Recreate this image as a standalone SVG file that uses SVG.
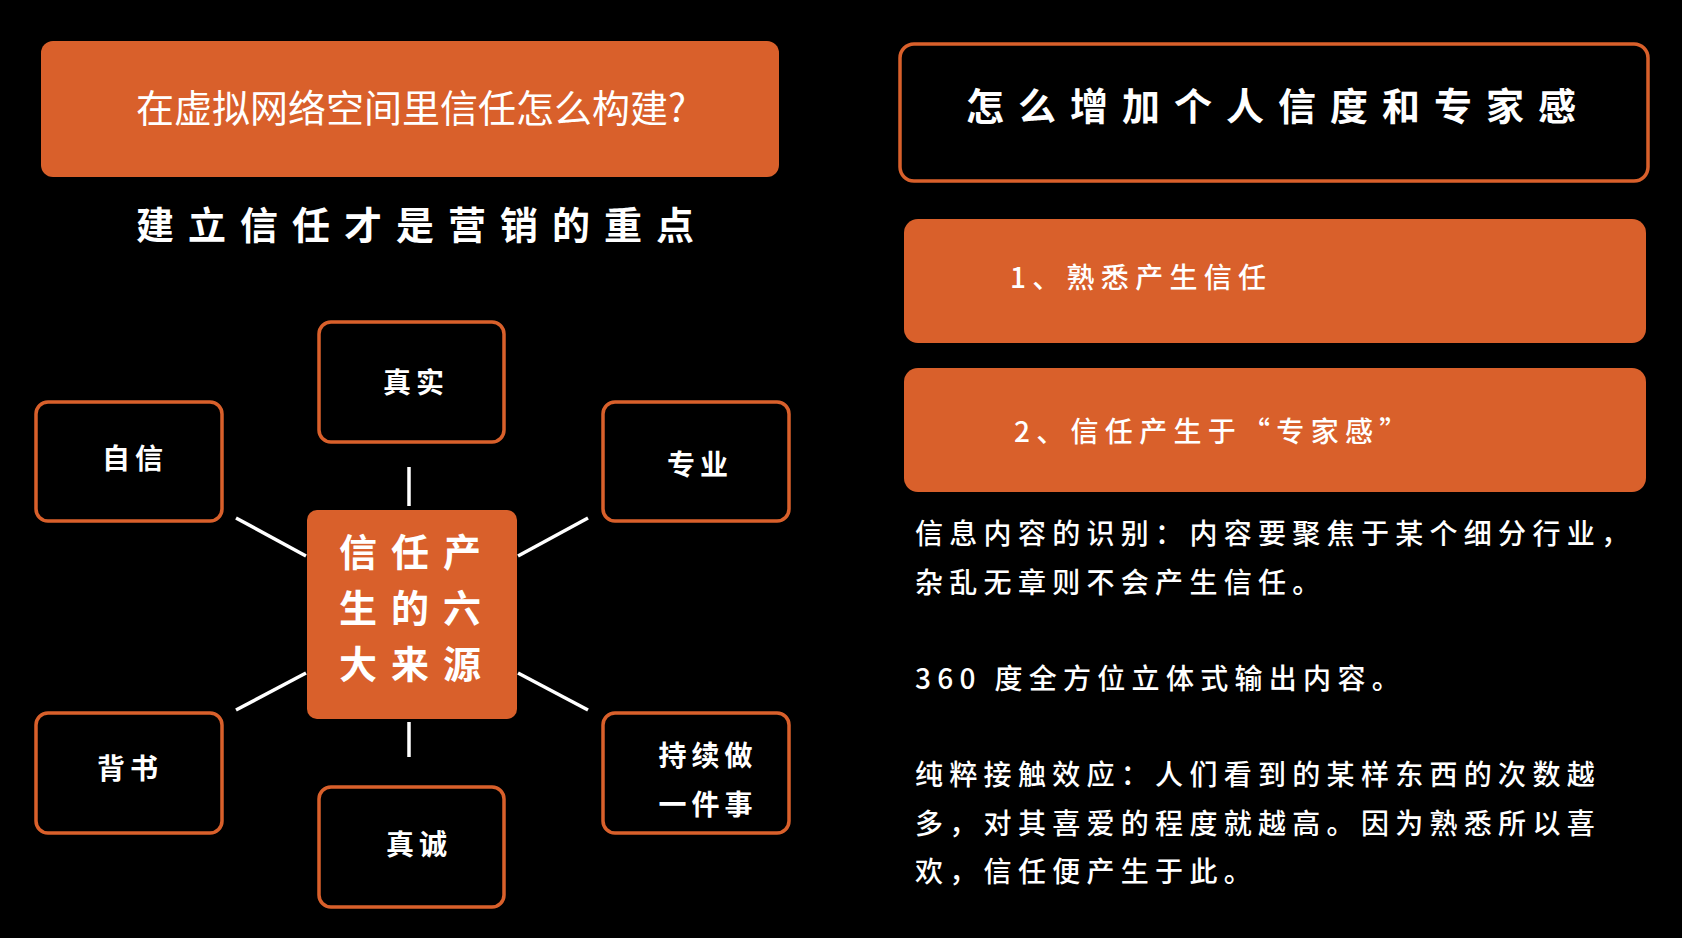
<svg xmlns="http://www.w3.org/2000/svg" width="1682" height="938" viewBox="0 0 1682 938">
<style>
text{font-family:"Noto Sans CJK SC","Liberation Sans",sans-serif;fill:#fff}
.box{fill:#000;stroke:#D9602B;stroke-width:3.5}
.fill{fill:#D9602B}
.lbl{font-size:28px;font-weight:bold;letter-spacing:5px;text-anchor:middle}
.big{font-size:38px;font-weight:bold;letter-spacing:14px;text-anchor:middle}
.para{font-size:28px;font-weight:500;letter-spacing:6.3px}
.conn line{stroke:#fff;stroke-width:3.5}
</style>
<rect width="1682" height="938" fill="#000"/>
<g id="title"><rect class="fill" x="41" y="41" width="738" height="136" rx="12"/>
<text x="411" y="122" font-size="38" text-anchor="middle">在虚拟网络空间里信任怎么构建?</text></g>
<text id="subtitle" class="big" x="422" y="239">建立信任才是营销的重点</text>
<g class="conn">
<line x1="409" y1="467" x2="409" y2="506"/>
<line x1="409" y1="722" x2="409" y2="757"/>
<line x1="236" y1="518" x2="306" y2="556"/>
<line x1="518" y1="556" x2="588" y2="518"/>
<line x1="236" y1="710" x2="306" y2="673"/>
<line x1="518" y1="673" x2="588" y2="710"/>
</g>
<g id="center"><rect class="fill" x="307" y="510" width="210" height="209" rx="10"/>
<text class="big" x="417" y="566">信任产</text>
<text class="big" x="417" y="622">生的六</text>
<text class="big" x="417" y="678">大来源</text></g>
<g id="n1"><rect class="box" x="319" y="322" width="185" height="120" rx="12"/><text class="lbl" x="416" y="393">真实</text></g>
<g id="n2"><rect class="box" x="36" y="402" width="186" height="119" rx="12"/><text class="lbl" x="135" y="469">自信</text></g>
<g id="n3"><rect class="box" x="603" y="402" width="186" height="119" rx="12"/><text class="lbl" x="700" y="475">专业</text></g>
<g id="n4"><rect class="box" x="36" y="713" width="186" height="120" rx="12"/><text class="lbl" x="130" y="779">背书</text></g>
<g id="n5"><rect class="box" x="603" y="713" width="186" height="120" rx="12"/><text class="lbl" x="708" y="766">持续做</text><text class="lbl" x="708" y="815">一件事</text></g>
<g id="n6"><rect class="box" x="319" y="787" width="185" height="120" rx="12"/><text class="lbl" x="419" y="855">真诚</text></g>
<g id="header"><rect class="box" x="900" y="44" width="748" height="137" rx="14"/>
<text class="big" x="1278" y="120">怎么增加个人信度和专家感</text></g>
<g id="b1"><rect class="fill" x="904" y="219" width="742" height="124" rx="14"/>
<text class="para" x="1010" y="288">1、熟悉产生信任</text></g>
<g id="b2"><rect class="fill" x="904" y="368" width="742" height="124" rx="14"/>
<text class="para" x="1014" y="442">2、信任产生于“专家感”</text></g>
<g id="body">
<text class="para" x="915" y="544">信息内容的识别：内容要聚焦于某个细分行业，</text>
<text class="para" x="915" y="593">杂乱无章则不会产生信任。</text>
<text class="para" x="915" y="689">360 度全方位立体式输出内容。</text>
<text class="para" x="915" y="785">纯粹接触效应：人们看到的某样东西的次数越</text>
<text class="para" x="915" y="834">多，对其喜爱的程度就越高。因为熟悉所以喜</text>
<text class="para" x="915" y="882">欢，信任便产生于此。</text>
</g>
</svg>
